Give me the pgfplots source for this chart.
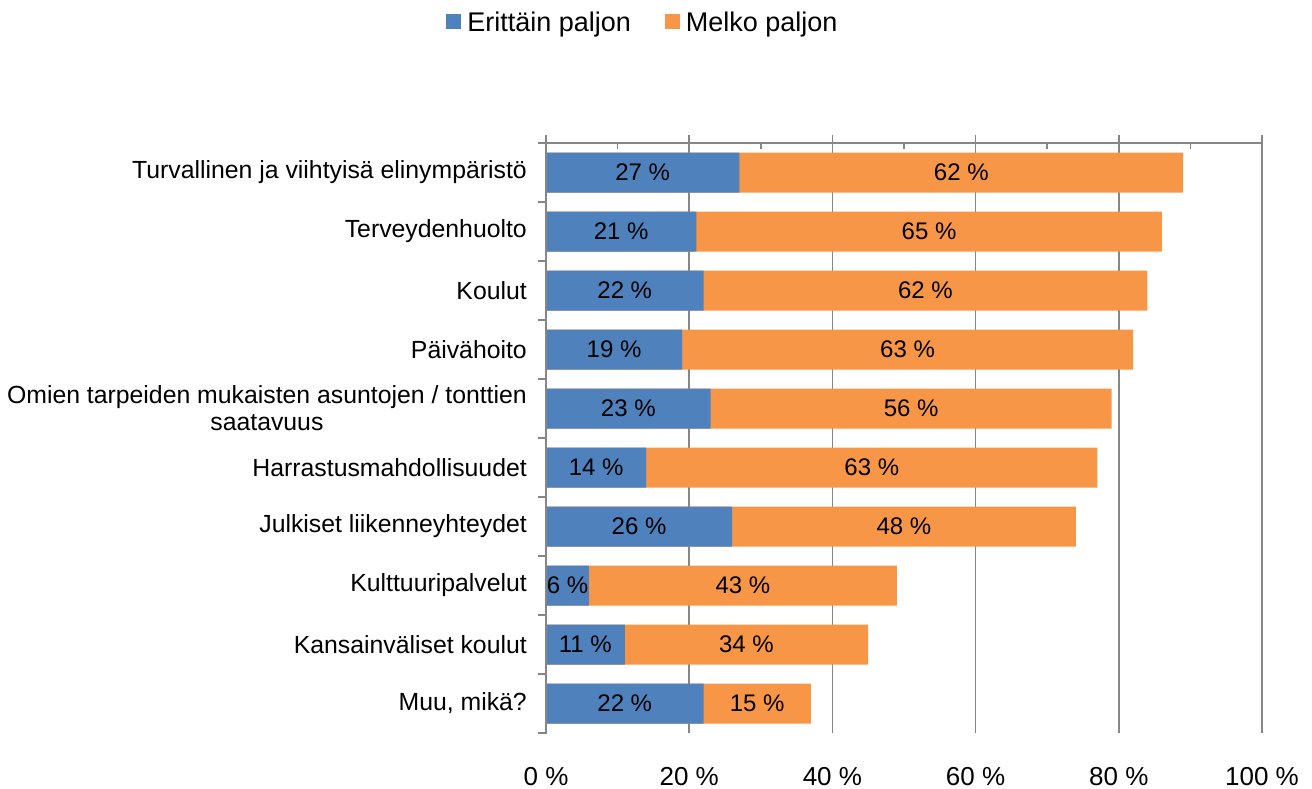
\documentclass[border=0pt]{standalone}
\usepackage{fontspec}
\setmainfont{Liberation Sans}
\usepackage{pgfplots}
\usepackage{pgfplotstable}
\pgfplotsset{compat=1.18}
\definecolor{cblue}{HTML}{4F81BD}
\definecolor{corange}{HTML}{F79646}
\definecolor{cgrid}{HTML}{868686}
\pgfplotstableread{
idx a b
1 27 62
2 21 65
3 22 62
4 19 63
5 23 56
6 14 63
7 26 48
8 6 43
9 11 34
10 22 15
}\data
\begin{document}
\begin{tikzpicture}[font=\fontsize{24.8}{27}\selectfont]
\useasboundingbox (0,0) rectangle (1312pt,-789pt);
\begin{axis}[
  at={(546pt,-733pt)}, anchor=south west,
  scale only axis, width=716pt, height=590pt,
  xmin=0, xmax=100, ymin=0.5, ymax=10.5, y dir=reverse,
  axis line style={draw=none},
  major tick length=0pt, minor tick length=0pt,
  clip=false,
  xtick={0,20,...,100},
  xticklabels={0 \%,20 \%,40 \%,60 \%,80 \%,100 \%},
  xticklabel style={anchor=base, yshift=-52pt, inner sep=0pt, font=\fontsize{26}{28}\selectfont},
  ytick={1,...,10},
  yticklabels={Turvallinen ja viihtyisä elinympäristö,Terveydenhuolto,Koulut,Päivähoito,{Omien tarpeiden mukaisten asuntojen / tonttien\\saatavuus},Harrastusmahdollisuudet,Julkiset liikenneyhteydet,Kulttuuripalvelut,Kansainväliset koulut,{Muu, mikä?}},
  yticklabel style={anchor=east, align=center, inner sep=0pt, xshift=-19pt},
  xmajorgrids, grid style={cgrid, line width=1.5pt},
  legend style={at={(0.134,1.205)}, anchor=center, draw=none, fill=none, legend columns=2,
    nodes={inner sep=0pt},
    /tikz/every odd column/.append style={column sep=6pt},
    /tikz/every even column/.append style={column sep=34pt}, inner sep=0pt,
    font=\fontsize{27}{29}\selectfont, cells={anchor=west}},
  legend image code/.code={\fill[#1] (0pt,-7pt) rectangle (15pt,8pt);},
]
\addlegendimage{fill=cblue, draw=none}
\addlegendentry{Erittäin paljon}
\addlegendimage{fill=corange, draw=none}
\addlegendentry{Melko paljon}
\addplot[xbar, bar width=40pt, bar shift=0pt, fill=corange, draw=none, forget plot]
  table[x expr=\thisrow{a}+\thisrow{b}, y=idx]{\data};
\addplot[xbar, bar width=40pt, bar shift=0pt, fill=cblue, draw=none, forget plot]
  table[x=a, y=idx]{\data};
\addplot[draw=none, mark=none, forget plot, nodes near coords={\pgfplotspointmeta\ \%},
  point meta=explicit symbolic,
  every node near coord/.style={anchor=center, inner sep=0pt, text=black, font=\fontsize{24}{26}\selectfont}]
  table[x expr=\thisrow{a}/2, y=idx, meta=a]{\data};
\addplot[draw=none, mark=none, forget plot, nodes near coords={\pgfplotspointmeta\ \%},
  point meta=explicit symbolic,
  every node near coord/.style={anchor=center, inner sep=0pt, text=black, font=\fontsize{24}{26}\selectfont}]
  table[x expr=\thisrow{a}+\thisrow{b}/2, y=idx, meta=b]{\data};
\end{axis}
\draw[cgrid, line width=2pt] (545pt,-143pt) -- (1263pt,-143pt);
\draw[cgrid, line width=2pt] (546pt,-142pt) -- (546pt,-734pt);
\foreach \i in {0,...,5} {\draw[cgrid, line width=1.5pt] ({(546+143.2*\i)*1pt},-135pt) -- ({(546+143.2*\i)*1pt},-143pt);}
\foreach \i in {0,...,4} {\draw[cgrid, line width=1.5pt] ({(546+71.6*(2*\i+1))*1pt},-143pt) -- ({(546+71.6*(2*\i+1))*1pt},-149pt);}
\foreach \k in {0,...,10} {\draw[cgrid, line width=1.5pt] (538pt,{-(143+59*\k)*1pt}) -- (546pt,{-(143+59*\k)*1pt});}
\end{tikzpicture}
\end{document}
